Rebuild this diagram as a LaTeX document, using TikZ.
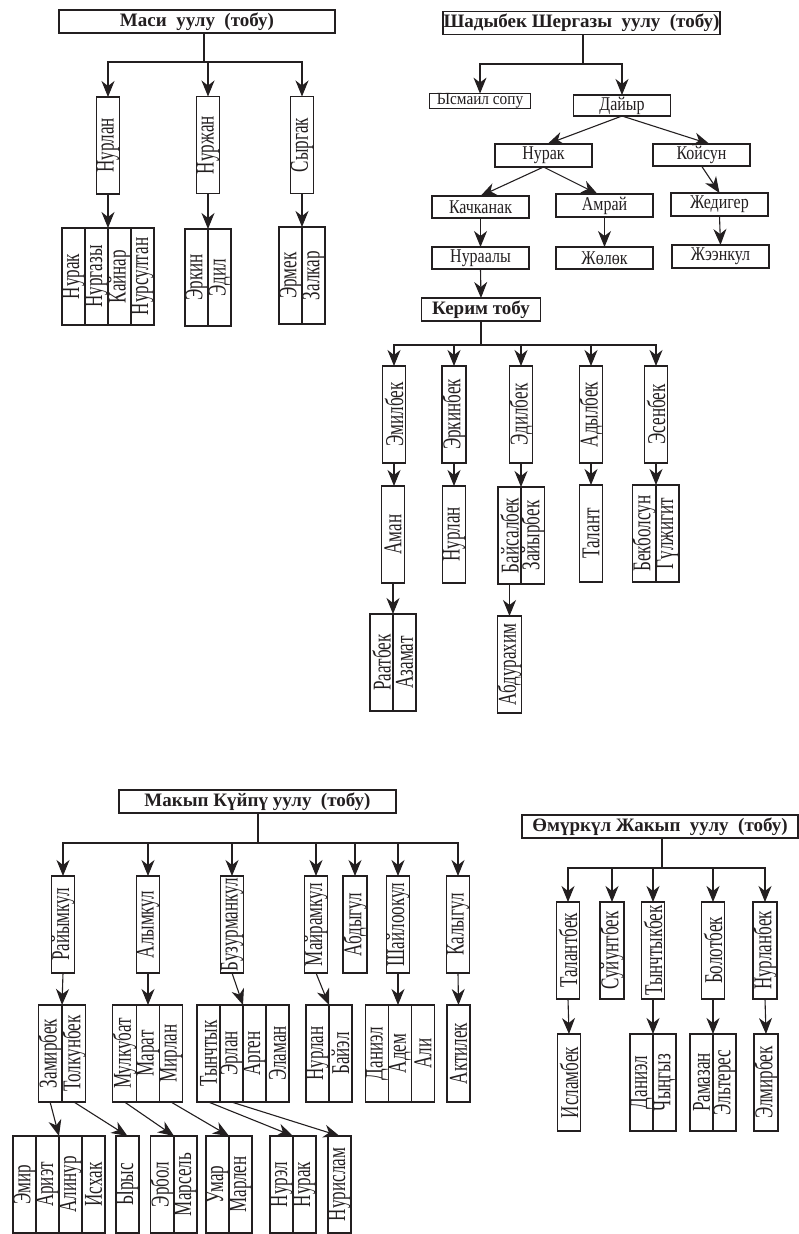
\documentclass[tikz,border=0pt]{standalone}
\usepackage{fontspec}
\setmainfont{Liberation Serif}
\newfontfamily\namefont[FakeStretch=0.82]{Liberation Serif}
\usepackage{graphicx}
\usetikzlibrary{arrows.meta,positioning}
\definecolor{ink}{HTML}{231F20}
\newcommand{\vname}[1]{\rotatebox{90}{\scalebox{0.9}[1.35]{#1}}}

\begin{document}
\begin{tikzpicture}[x=1pt,y=-1pt,every node/.style={font=\namefont\fontsize{19.5}{22}\selectfont,text=ink},hbox/.style={draw=ink,line width=1.2pt,inner sep=0pt,outer sep=0pt,minimum width=97pt,minimum height=22pt},vbox/.style={draw=ink,line width=1.2pt,inner sep=0pt,outer sep=0pt,minimum width=23pt,minimum height=97pt,font=\fontsize{19}{21}\selectfont},head/.style={hbox,minimum width=277pt,minimum height=23pt,font=\fontsize{19}{21}\selectfont\bfseries},arr/.style={-{Stealth[length=16pt,width=13pt,inset=5pt]},line width=1.1pt,draw=ink},link/.style={line width=1.1pt,draw=ink}]
\useasboundingbox (0,0) rectangle (799,1234);
% Маси уулу
\node[head,minimum width=276pt] (masi) at (197,21.5) {Маси~~уулу~~(тобу)};
\coordinate (masij) at (204,62);
\node[vbox] (nurlan) at (108,145.5) {\vname{Нурлан}};
\node[vbox] (nurzhan) at (208,145) {\vname{Нуржан}};
\node[vbox] (syrgak) at (302,145) {\vname{Сыргак}};
\node[vbox,anchor=north east] (nurgazy) at (108,228) {\vname{Нургазы}};
\node[vbox,left=0pt of nurgazy] (nurak) {\vname{Нурак}};
\node[vbox,right=0pt of nurgazy] (kainar) {\vname{Кайнар}};
\node[vbox,right=0pt of kainar] (nursultan) {\vname{Нурсултан}};
\node[vbox,anchor=north east] (erkin) at (208,229) {\vname{Эркин}};
\node[vbox,right=0pt of erkin] (edil) {\vname{Эдил}};
\node[vbox,anchor=north east] (ermek) at (302,227) {\vname{Эрмек}};
\node[vbox,right=0pt of ermek] (zalkar) {\vname{Залкар}};
\draw[link] (masi.south -| masij) -- (masij);
\draw[arr] (masij) -| (nurlan.north);\draw[arr] (masij) -| (nurzhan.north);\draw[arr] (masij) -| (syrgak.north);
\draw[arr] (nurlan.south) -- (nurgazy.north east);\draw[arr] (nurzhan.south) -- (erkin.north east);\draw[arr] (syrgak.south) -- (ermek.north east);
% Шадыбек Шергазы уулу
\node[head] (shady) at (581.5,23) {Шадыбек Шергазы~~уулу~~(тобу)};
\coordinate (shadyj) at (583,64);
\node[hbox,minimum width=101pt,minimum height=14pt,font=\fontsize{17}{17}\selectfont] (ysmail) at (480,101) {\scalebox{0.9}[1]{Ысмаил сопу}};
\node[hbox,minimum height=21pt] (dayyr) at (622,105.5) {Дайыр};
\node[hbox,minimum height=23pt] (nurak2) at (543.5,155.5) {Нурак};
\node[hbox] (koisun) at (701.5,155) {Койсун};
\node[hbox] (kachkanak) at (480.5,207) {Качканак};
\node[hbox,minimum height=23pt] (amrai) at (604.5,205.5) {Амрай};
\node[hbox,minimum height=23pt] (zhediger) at (719.5,204.5) {Жедигер};
\node[hbox] (nuraaly) at (480.5,258) {Нураалы};
\node[hbox] (zholok) at (604.5,258) {Жөлөк};
\node[hbox,minimum height=23pt] (zheenkul) at (720.5,256.5) {Жээнкул};
\node[hbox,minimum width=119pt,minimum height=23pt,font=\fontsize{19}{21}\selectfont\bfseries] (kerim) at (481,309.5) {Керим тобу};
\draw[link] (shady.south -| shadyj) -- (shadyj);
\draw[arr] (shadyj) -| (ysmail.north);\draw[arr] (shadyj) -| (dayyr.north);
\draw[arr] (dayyr.south) -- ([xshift=4pt]nurak2.north);\draw[arr] (dayyr.south) -- ([xshift=8pt]koisun.north);
\draw[arr] (nurak2.south) -- (kachkanak.north);\draw[arr] (nurak2.south) -- ([xshift=-7pt]amrai.north);\draw[arr] (koisun.south) -- (zhediger.north);
\draw[arr] (kachkanak.south) -- (nuraaly.north);\draw[arr] (amrai.south) -- (zholok.north);\draw[arr] (zhediger.south) -- (zheenkul.north);
\draw[arr] (nuraaly.south) -- (kerim.north);
% Керим тобу
\coordinate (kerimj) at (481,345);
\node[vbox] (emilbek) at (394,414.5) {\vname{Эмилбек}};
\node[vbox] (erkinbek) at (454,414.5) {\vname{Эркинбек}};
\node[vbox] (edilbek) at (521,414.5) {\vname{Эдилбек}};
\node[vbox] (adylbek) at (591,414.5) {\vname{Адылбек}};
\node[vbox] (esenbek) at (656,414.5) {\vname{Эсенбек}};
\node[vbox] (aman) at (393,534.5) {\vname{Аман}};
\node[vbox] (nurlan2) at (454,534.5) {\vname{Нурлан}};
\node[vbox,anchor=north east] (baisalbek) at (521,487) {\vname{Байсалбек}};
\node[vbox,right=0pt of baisalbek] (zaiyrbek) {\vname{Зайырбек}};
\node[vbox] (talant) at (591,533.5) {\vname{Талант}};
\node[vbox,anchor=north east] (bekbolsun) at (656,485) {\vname{Бекболсун}};
\node[vbox,right=0pt of bekbolsun] (gulzhigit) {\vname{Гүлжигит}};
\node[vbox,anchor=north east] (raatbek) at (393,614) {\vname{Раатбек}};
\node[vbox,right=0pt of raatbek] (azamat) {\vname{Азамат}};
\node[vbox] (abdurakhim) at (509.5,664.5) {\vname{Абдурахим}};
\draw[link] (kerim.south) -- (kerimj);
\draw[arr] (kerimj) -| (emilbek.north);\draw[arr] (kerimj) -| (erkinbek.north);\draw[arr] (kerimj) -| (edilbek.north);\draw[arr] (kerimj) -| (adylbek.north);\draw[arr] (kerimj) -| (esenbek.north);
\draw[arr] (emilbek.south) -- (emilbek.south |- aman.north);\draw[arr] (erkinbek.south) -- (nurlan2.north);\draw[arr] (edilbek.south) -- (baisalbek.north east);\draw[arr] (adylbek.south) -- (talant.north);\draw[arr] (esenbek.south) -- (bekbolsun.north east);
\draw[arr] (aman.south) -- (raatbek.north east);\draw[arr] (baisalbek.south) -- (abdurakhim.north);
% Макып Күйпү уулу
\node[head] (makyp) at (257.5,801.5) {Макып Күйпү уулу~~(тобу)};
\coordinate (makypj) at (258,843);
\node[vbox] (raiymkul) at (63,924.5) {\vname{Райымкул}};
\node[vbox] (alymkul) at (148,924.5) {\vname{Алымкул}};
\node[vbox] (buzurmankul) at (232,924.5) {\vname{Бузурманкул}};
\node[vbox] (mairamkul) at (316,924.5) {\vname{Майрамкул}};
\node[vbox] (abdygul) at (355,924.5) {\vname{Абдыгул}};
\node[vbox] (shailookul) at (398,924.5) {\vname{Шайлоокул}};
\node[vbox] (kalygul) at (458,924.5) {\vname{Калыгул}};
\node[vbox,anchor=north east] (zamirbek) at (62,1005) {\vname{Замирбек}};
\node[vbox,right=0pt of zamirbek] (tolkunbek) {\vname{Толкунбек}};
\node[vbox] (marat) at (148,1053.5) {\vname{Марат}};
\node[vbox,left=0pt of marat] (mulkubat) {\vname{Мулкубат}};
\node[vbox,right=0pt of marat] (mirlan) {\vname{Мирлан}};
\node[vbox,anchor=north east] (erlan) at (243,1005) {\vname{Эрлан}};
\node[vbox,left=0pt of erlan] (tynchtyk) {\vname{Тынчтык}};
\node[vbox,right=0pt of erlan] (argen) {\vname{Арген}};
\node[vbox,right=0pt of argen] (elaman) {\vname{Эламан}};
\node[vbox,anchor=north east] (nurlan3) at (329,1005) {\vname{Нурлан}};
\node[vbox,right=0pt of nurlan3] (baiel) {\vname{Байэл}};
\node[vbox] (adem) at (400,1053.5) {\vname{Адем}};
\node[vbox,left=0pt of adem] (daniel) {\vname{Даниэл}};
\node[vbox,right=0pt of adem] (ali) {\vname{Али}};
\node[vbox] (aktilek) at (458.5,1053.5) {\vname{Актилек}};
\node[vbox,anchor=north east] (ariet) at (59,1136) {\vname{Ариэт}};
\node[vbox,left=0pt of ariet] (emir) {\vname{Эмир}};
\node[vbox,right=0pt of ariet] (alinur) {\vname{Алинур}};
\node[vbox,right=0pt of alinur] (iskhak) {\vname{Исхак}};
\node[vbox] (yrys) at (127.5,1184.5) {\vname{Ырыс}};
\node[vbox,anchor=north east] (erbol) at (174,1136) {\vname{Эрбол}};
\node[vbox,right=0pt of erbol] (marsel) {\vname{Марсель}};
\node[vbox,anchor=north east] (umar) at (229,1136) {\vname{Умар}};
\node[vbox,right=0pt of umar] (marlen) {\vname{Марлен}};
\node[vbox,anchor=north east] (nurel) at (293,1136) {\vname{Нурэл}};
\node[vbox,right=0pt of nurel] (nurak3) {\vname{Нурак}};
\node[vbox] (nurislam) at (339.5,1184.5) {\vname{Нурислам}};
\draw[link] (makyp.south -| makypj) -- (makypj);
\draw[arr] (makypj) -| (raiymkul.north);\draw[arr] (makypj) -| (alymkul.north);\draw[arr] (makypj) -| (buzurmankul.north);\draw[arr] (makypj) -| (mairamkul.north);\draw[arr] (makypj) -| (abdygul.north);\draw[arr] (makypj) -| (shailookul.north);\draw[arr] (makypj) -| (kalygul.north);
\draw[arr] (raiymkul.south) -- (zamirbek.north east);\draw[arr] (alymkul.south) -- (marat.north);\draw[arr] (buzurmankul.south) -- (erlan.north east);\draw[arr] (mairamkul.south) -- (nurlan3.north east);\draw[arr] (shailookul.south) -- (shailookul.south |- adem.north);\draw[arr] (kalygul.south) -- (aktilek.north);
\draw[arr] (zamirbek.south) -- (ariet.north east);\draw[arr] (tolkunbek.south) -- (yrys.north);\draw[arr] (mulkubat.south) -- (erbol.north east);\draw[arr] (mirlan.south) -- (umar.north east);\draw[arr] (tynchtyk.south) -- (nurel.north east);\draw[arr] (erlan.south) -- (nurislam.north);
% Өмүркүл Жакып уулу
\node[head,minimum width=276pt] (omur) at (660,826.5) {Өмүркүл Жакып~~уулу~~(тобу)};
\coordinate (omurj) at (662,868);
\node[vbox] (talantbek) at (568,950.5) {\vname{Талантбек}};
\node[vbox] (suiuntbek) at (612,950.5) {\vname{Суйунтбек}};
\node[vbox] (tynchtykbek) at (653,950.5) {\vname{Тынчтыкбек}};
\node[vbox] (bolotbek) at (713,950.5) {\vname{Болотбек}};
\node[vbox] (nurlanbek) at (765,950.5) {\vname{Нурланбек}};
\node[vbox] (islambek) at (569,1082.5) {\vname{Исламбек}};
\node[vbox,anchor=north east] (daniel2) at (653,1034) {\vname{Даниэл}};
\node[vbox,right=0pt of daniel2] (chyngyz) {\vname{Чыңгыз}};
\node[vbox,anchor=north east] (ramazan) at (713,1034) {\vname{Рамазан}};
\node[vbox,right=0pt of ramazan] (elteres) {\vname{Эльтерес}};
\node[vbox] (elmirbek) at (766,1082.5) {\vname{Элмирбек}};
\draw[link] (omur.south -| omurj) -- (omurj);
\draw[arr] (omurj) -| (talantbek.north);\draw[arr] (omurj) -| (suiuntbek.north);\draw[arr] (omurj) -| (tynchtykbek.north);\draw[arr] (omurj) -| (bolotbek.north);\draw[arr] (omurj) -| (nurlanbek.north);
\draw[arr] (talantbek.south) -- (islambek.north);\draw[arr] (tynchtykbek.south) -- (daniel2.north east);\draw[arr] (bolotbek.south) -- (ramazan.north east);\draw[arr] (nurlanbek.south) -- (elmirbek.north);
\end{tikzpicture}
\end{document}
